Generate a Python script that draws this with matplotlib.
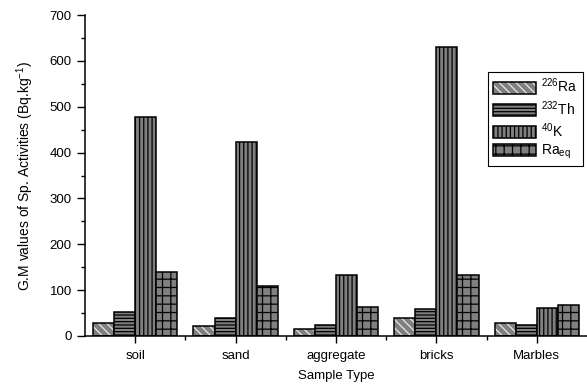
import numpy as np
import matplotlib
matplotlib.use('Agg')
import matplotlib.pyplot as plt

plt.rcParams['font.family'] = ['Liberation Sans', 'DejaVu Sans']
plt.rcParams['mathtext.default'] = 'regular'
plt.rcParams['hatch.linewidth'] = 0.9

# dados
amostras = ['soil', 'sand', 'aggregate', 'bricks', 'Marbles']
ra226 = [28, 22, 16, 39, 28]
th232 = [53, 40, 25, 59, 25]
k40 = [478, 423, 133, 631, 60]
ra_eq = [139, 109, 63, 133, 68]

cinza = '#808080'
largura = 0.21
x = np.arange(len(amostras))

fig = plt.figure(figsize=(5.87, 3.85), dpi=100)
ax = fig.add_axes([85 / 587, 49 / 385, 502 / 587, 321 / 385])

# Ra-226: listras claras sobre cinza, contorno preto por cima
ra_fill = ax.bar(x - 1.5 * largura, ra226, largura, color=cinza,
                 edgecolor='#e8e8e8', hatch='\\\\\\\\', linewidth=0)
ra_edge = ax.bar(x - 1.5 * largura, ra226, largura, fill=False,
                 edgecolor='black', linewidth=1.1)
b_th = ax.bar(x - 0.5 * largura, th232, largura, color=cinza,
              edgecolor='black', hatch='-----', linewidth=1.1)
b_k = ax.bar(x + 0.5 * largura, k40, largura, color=cinza,
             edgecolor='black', hatch='||||', linewidth=1.1)
b_eq = ax.bar(x + 1.5 * largura, ra_eq, largura, color=cinza,
              edgecolor='black', hatch='++', linewidth=1.1)

ax.set_xlim(-0.5, 4.5)
ax.set_ylim(0, 700)
ax.set_xticks(x)
ax.set_xticklabels(amostras, fontsize=9.5)
ax.set_xticks(x[:-1] + 0.5, minor=True)
ax.set_yticks(np.arange(0, 701, 100))
ax.set_yticks(np.arange(50, 700, 100), minor=True)
ax.tick_params(axis='y', labelsize=9.5, length=6, width=1, direction='out')
ax.tick_params(axis='y', which='minor', length=3, width=1)
ax.tick_params(axis='x', length=5, width=1, direction='out', pad=5)
ax.tick_params(axis='x', which='minor', length=3, width=1)

for lado in ['top', 'right']:
    ax.spines[lado].set_visible(False)
for lado in ['left', 'bottom']:
    ax.spines[lado].set_linewidth(1.1)

ax.set_xlabel('Sample Type', fontsize=9.5, labelpad=6)
ax.set_ylabel('G.M values of Sp. Activities (Bq.kg$^{-1}$)', fontsize=10, labelpad=10)

leg = ax.legend([(ra_fill, ra_edge), b_th, b_k, b_eq],
                ['$^{226}$Ra', '$^{232}$Th', '$^{40}$K', 'Ra$_{eq}$'],
                loc='upper left', bbox_to_anchor=(403 / 502, 264 / 321),
                fontsize=10, handlelength=3.1, handleheight=0.95,
                labelspacing=0.25, handletextpad=0.4, borderpad=0.35,
                borderaxespad=0, fancybox=False, edgecolor='black', framealpha=1)
leg.get_frame().set_linewidth(0.8)

fig.savefig('out.png', dpi=100)
